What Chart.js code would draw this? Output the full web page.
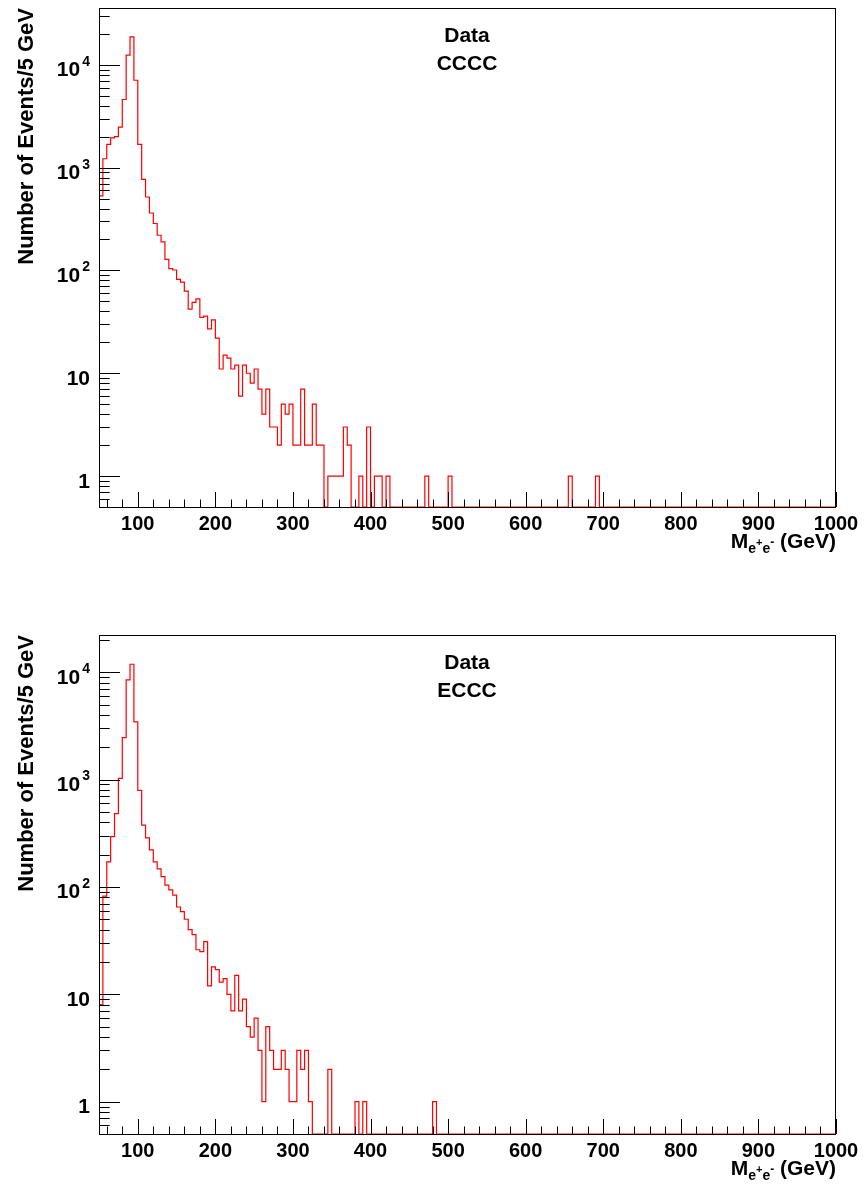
<!DOCTYPE html>
<html>
<head>
<meta charset="utf-8">
<script src="https://cdn.jsdelivr.net/npm/chart.js@4.4.0/dist/chart.umd.min.js"></script>
<style>
  html, body { margin: 0; padding: 0; background: #fff; }
  .panel { position: absolute; left: 0; width: 864px; height: 596px; }
</style>
</head>
<body>
<div class="panel" style="top:0"><canvas id="chartCCCC" width="864" height="596"></canvas></div>
<div class="panel" style="top:596px"><canvas id="chartECCC" width="864" height="596"></canvas></div>
<script>
// 5 GeV bins from 50 to 1000 GeV
const xMin = 50;
const xMax = 1000;
const binWidth = 5;
const yMin = 0.5;   // log axis floor, empty bins sit on it

// events per bin, CCCC (190 bins)
const countsCCCC = [
  530, 1220, 1680, 1950, 2000, 2480, 4600, 12400, 18700, 7080,
  1680, 770, 518, 362, 286, 220, 190, 128, 104, 101,
  82, 77, 63, 42, 49, 53, 35, 36, 27, 33,
  22, 11, 15, 14, 11, 12, 6, 12, 10, 8,
  11, 7, 4, 7, 3, 3, 2, 5, 4, 5,
  2, 2, 7, 2, 2, 5, 2, 2, 0, 1,
  1, 1, 1, 3, 2, 0, 0, 1, 0, 3,
  0, 1, 1, 0, 1, 0, 0, 0, 0, 0,
  0, 0, 0, 0, 1, 0, 0, 0, 0, 0,
  1, 0, 0, 0, 0, 0, 0, 0, 0, 0,
  0, 0, 0, 0, 0, 0, 0, 0, 0, 0,
  0, 0, 0, 0, 0, 0, 0, 0, 0, 0,
  0, 1, 0, 0, 0, 0, 0, 0, 1, 0,
  0, 0, 0, 0, 0, 0, 0, 0, 0, 0,
  0, 0, 0, 0, 0, 0, 0, 0, 0, 0,
  0, 0, 0, 0, 0, 0, 0, 0, 0, 0,
  0, 0, 0, 0, 0, 0, 0, 0, 0, 0,
  0, 0, 0, 0, 0, 0, 0, 0, 0, 0,
  0, 0, 0, 0, 0, 0, 0, 0, 0, 0
];

// events per bin, ECCC (190 bins)
const countsECCC = [
  8, 82, 171, 294, 481, 1024, 2460, 8480, 11860, 3450,
  792, 377, 286, 221, 171, 147, 125, 104, 94, 84,
  65, 59, 50, 40, 36, 26, 25, 31, 12, 18,
  17, 13, 14, 10, 7, 15, 7, 9, 5, 4,
  6, 3, 1, 5, 3, 2, 2, 3, 2, 1,
  1, 3, 2, 3, 1, 0, 0, 0, 0, 2,
  0, 0, 0, 0, 0, 0, 1, 0, 1, 0,
  0, 0, 0, 0, 0, 0, 0, 0, 0, 0,
  0, 0, 0, 0, 0, 0, 1, 0, 0, 0,
  0, 0, 0, 0, 0, 0, 0, 0, 0, 0,
  0, 0, 0, 0, 0, 0, 0, 0, 0, 0,
  0, 0, 0, 0, 0, 0, 0, 0, 0, 0,
  0, 0, 0, 0, 0, 0, 0, 0, 0, 0,
  0, 0, 0, 0, 0, 0, 0, 0, 0, 0,
  0, 0, 0, 0, 0, 0, 0, 0, 0, 0,
  0, 0, 0, 0, 0, 0, 0, 0, 0, 0,
  0, 0, 0, 0, 0, 0, 0, 0, 0, 0,
  0, 0, 0, 0, 0, 0, 0, 0, 0, 0,
  0, 0, 0, 0, 0, 0, 0, 0, 0, 0
];

const xTickLabels = [100, 200, 300, 400, 500, 600, 700, 800, 900, 1000];
const yTickValues = [1, 10, 100, 1000, 10000];
const yTickBase = ['1', '10', '10', '10', '10'];
const yTickExp = ['', '', '2', '3', '4'];

const FONT = '"Liberation Sans", Arial, Helvetica, sans-serif';

// log scale drops zeros, so empty bins are drawn on the axis floor like ROOT does
function histPoints(counts) {
  const pts = [{ x: xMin, y: yMin }];
  counts.forEach((c, i) => pts.push({ x: xMin + i * binWidth, y: c > 0 ? c : yMin }));
  pts.push({ x: xMax, y: yMin });
  return pts;
}

const rootFrame = {
  id: 'rootFrame',
  afterDatasetsDraw(chart, args, opts) {
    const { ctx, chartArea: a, scales: { x, y } } = chart;
    const L = Math.round(a.left), R = Math.round(a.right);
    const T = Math.round(a.top), B = Math.round(a.bottom);
    ctx.save();
    ctx.strokeStyle = '#000';
    ctx.lineWidth = 1;
    ctx.strokeRect(L + 0.5, T + 0.5, R - L - 1, B - T);

    // x ticks, inside the frame
    ctx.beginPath();
    for (let v = 60; v <= xMax; v += 20) {
      const px = Math.round(x.getPixelForValue(v)) + 0.5;
      const len = v % 100 === 0 ? 15 : 7.5;
      ctx.moveTo(px, B);
      ctx.lineTo(px, B - len);
    }
    // y ticks, inside the frame
    const d0 = Math.floor(Math.log10(y.min));
    const d1 = Math.ceil(Math.log10(y.max));
    for (let d = d0; d <= d1; d++) {
      for (let m = 1; m <= 9; m++) {
        const v = m * Math.pow(10, d);
        if (v < y.min || v > y.max) continue;
        const py = Math.round(y.getPixelForValue(v)) + 0.5;
        const len = m === 1 ? 21 : 10.7;
        ctx.moveTo(L, py);
        ctx.lineTo(L + len, py);
      }
    }
    ctx.stroke();

    ctx.fillStyle = '#000';
    // x tick labels
    ctx.font = 'bold 20px ' + FONT;
    ctx.textAlign = 'center';
    ctx.textBaseline = 'alphabetic';
    xTickLabels.forEach(v => {
      ctx.fillText(String(v), x.getPixelForValue(v), B + 22.5);
    });

    // y tick labels with exponents
    ctx.textAlign = 'left';
    yTickValues.forEach((v, i) => {
      const py = y.getPixelForValue(v) + 11.5;
      ctx.font = 'bold 21px ' + FONT;
      const wb = ctx.measureText(yTickBase[i]).width;
      let we = 0;
      if (yTickExp[i]) {
        ctx.font = 'bold 14px ' + FONT;
        we = ctx.measureText(yTickExp[i]).width + 2;
      }
      const x0 = 90 - wb - we;
      ctx.font = 'bold 21px ' + FONT;
      ctx.fillText(yTickBase[i], x0, py);
      if (yTickExp[i]) {
        ctx.font = 'bold 14px ' + FONT;
        ctx.fillText(yTickExp[i], x0 + wb + 2, py - 10.6);
      }
    });

    // x title: M_{e^{+}e^{-}} (GeV), right aligned
    const parts = [
      { t: 'M', f: 21, dy: 0 },
      { t: 'e', f: 14, dy: 5 },
      { t: '+', f: 11, dy: -2 },
      { t: 'e', f: 14, dy: 5 },
      { t: '-', f: 12, dy: -2 },
      { t: ' (GeV)', f: 21, dy: 0 }
    ];
    let total = 0;
    parts.forEach(p => { ctx.font = 'bold ' + p.f + 'px ' + FONT; p.w = ctx.measureText(p.t).width; total += p.w; });
    let cx = R - total;
    const tb = B + 41;
    parts.forEach(p => {
      ctx.font = 'bold ' + p.f + 'px ' + FONT;
      ctx.fillText(p.t, cx, tb + p.dy);
      cx += p.w;
    });

    // y title, rotated
    ctx.save();
    ctx.translate(33, T);
    ctx.rotate(-Math.PI / 2);
    ctx.font = 'bold 22px ' + FONT;
    ctx.textAlign = 'right';
    ctx.fillText('Number of Events/5 GeV', 0, 0);
    ctx.restore();

    // labels in the pad
    ctx.font = 'bold 21px ' + FONT;
    ctx.textAlign = 'center';
    const mid = 467;
    ctx.fillText(opts.line1, mid, T + 33.5);
    ctx.fillText(opts.line2, mid, T + 62);
    ctx.restore();
  }
};

function makeChart(id, counts, yMax, padTop, padBottom, name) {
  const ctx = document.getElementById(id).getContext('2d');
  return new Chart(ctx, {
    type: 'line',
    data: {
      datasets: [{
        label: name,
        data: histPoints(counts),
        borderColor: '#ff0000',
        borderWidth: 1.2,
        pointRadius: 0,
        stepped: true,
        fill: false
      }]
    },
    options: {
      responsive: false,
      animation: false,
      devicePixelRatio: 1,
      layout: { padding: { left: 99, right: 28, top: padTop, bottom: padBottom } },
      scales: {
        x: { type: 'linear', min: xMin, max: xMax, display: false },
        y: { type: 'logarithmic', min: yMin, max: yMax, display: false }
      },
      plugins: {
        legend: { display: false },
        tooltip: { enabled: false },
        rootFrame: { line1: 'Data', line2: name }
      }
    },
    plugins: [rootFrame]
  });
}

makeChart('chartCCCC', countsCCCC, 35700, 8, 89, 'CCCC');
makeChart('chartECCC', countsECCC, 22200, 39, 58, 'ECCC');
</script>
</body>
</html>
